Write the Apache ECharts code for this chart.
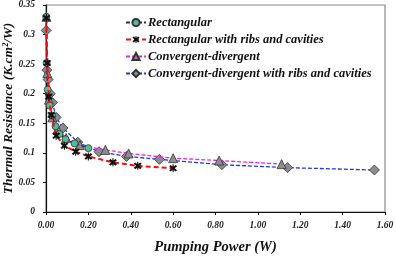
<!DOCTYPE html>
<html><head><meta charset="utf-8">
<script src="https://cdn.jsdelivr.net/npm/echarts@6/dist/echarts.min.js"></script>
<style>html,body{margin:0;padding:0;background:#fff}#c{width:396px;height:257px}</style>
</head><body><div id="c"></div>
<script>
var seriesNames = ['Rectangular','Rectangular with ribs and cavities','Convergent-divergent','Convergent-divergent with ribs and cavities'];
var rectX = [0.001, 0.003, 0.008, 0.017, 0.029, 0.045, 0.064, 0.092, 0.135, 0.20];
var rectY = [0.330, 0.252, 0.207, 0.180, 0.163, 0.145, 0.132, 0.123, 0.116, 0.108];
var ribX = [0.002, 0.006, 0.013, 0.025, 0.048, 0.087, 0.14, 0.20, 0.316, 0.433, 0.60];
var ribY = [0.328, 0.252, 0.195, 0.164, 0.129, 0.112, 0.102, 0.094, 0.084, 0.078, 0.074];
var cdX = [0.002, 0.006, 0.014, 0.03, 0.055, 0.095, 0.16, 0.28, 0.39, 0.60, 0.817, 1.112];
var cdY = [0.330, 0.235, 0.190, 0.160, 0.140, 0.125, 0.113, 0.105, 0.099, 0.091, 0.087, 0.081];
var cdrX = [0.001, 0.004, 0.01, 0.02, 0.03, 0.048, 0.08, 0.15, 0.25, 0.38, 0.535, 0.83, 1.14, 1.55];
var cdrY = [0.307, 0.240, 0.224, 0.200, 0.185, 0.160, 0.142, 0.118, 0.102, 0.094, 0.089, 0.080, 0.075, 0.071];
var xTicks = [0, 0.2, 0.4, 0.6, 0.8, 1.0, 1.2, 1.4, 1.6];
var yTicks = [0, 0.05, 0.1, 0.15, 0.2, 0.25, 0.3, 0.35];

function pairs(xs, ys){ return xs.map(function(x,i){return [x, ys[i]];}); }
var serif = '"Liberation Serif","DejaVu Serif",serif';
var asterisk = 'path://M2,0 L5,3 L8,0 L10,2 L7,5 L10,8 L8,10 L5,7 L2,10 L0,8 L3,5 L0,2 Z M4.3,-1 L5.7,-1 L5.7,11 L4.3,11 Z';

var chart = echarts.init(document.getElementById('c'));
chart.setOption({
  animation: false,
  grid: {left: 46, top: 5, right: 11, bottom: 45, show: true, borderColor: '#888', borderWidth: 1.2,
    containLabel: false, outerBoundsMode: 'none'},
  legend: {
    left: 120, top: 11, orient: 'vertical', itemGap: 4, itemWidth: 20, itemHeight: 9,
    textStyle: {fontFamily: serif, fontStyle: 'italic', fontWeight: 'bold', fontSize: 12.5, color: '#111', padding: [0,0,0,-3]},
    data: seriesNames
  },
  xAxis: {
    type: 'value', min: 0, max: 1.6, interval: 0.2,
    name: 'Pumping Power (W)', nameLocation: 'middle', nameGap: 28, nameMoveOverlap: false,
    nameTextStyle: {fontFamily: serif, fontStyle: 'italic', fontWeight: 'bold', fontSize: 14.5, color: '#111'},
    axisLine: {lineStyle: {color: '#111', width: 1.2}},
    axisTick: {show: true, length: 3, lineStyle: {color: '#111'}},
    splitLine: {show: false},
    axisLabel: {fontFamily: serif, fontStyle: 'italic', fontWeight: 'bold', fontSize: 9.5, color: '#222', margin: 9,
      formatter: function(v){ return v.toFixed(2); }}
  },
  yAxis: {
    type: 'value', min: 0, max: 0.35, interval: 0.05,
    name: 'Thermal Resistance (K.cm²/W)', nameLocation: 'middle', nameGap: 30, nameRotate: 90, nameMoveOverlap: false,
    nameTextStyle: {fontFamily: serif, fontStyle: 'italic', fontWeight: 'bold', fontSize: 13.5, color: '#111'},
    axisLine: {show: true, lineStyle: {color: '#111', width: 1.2}},
    axisTick: {show: true, length: 3, lineStyle: {color: '#111'}},
    splitLine: {show: false},
    axisLabel: {fontFamily: serif, fontStyle: 'italic', fontWeight: 'bold', fontSize: 9.5, color: '#222', margin: 11,
      formatter: function(v){ return String(+v.toFixed(2)); }}
  },
  series: [
    {name: seriesNames[3], type: 'line', data: pairs(cdrX, cdrY), symbol: 'diamond', symbolSize: 10,
      lineStyle: {color: '#2233ee', type: [4,2], width: 1.3},
      itemStyle: {color: '#8c8c8c', borderColor: '#333', borderWidth: 0.8}, z: 2},
    {name: seriesNames[2], type: 'line', data: pairs(cdX, cdY), symbol: 'triangle', symbolSize: 9,
      lineStyle: {color: '#ee22ee', type: [4,2], width: 1.3},
      itemStyle: {color: '#8c8c8c', borderColor: '#333', borderWidth: 0.8}, z: 3},
    {name: seriesNames[0], type: 'line', data: pairs(rectX, rectY), symbol: 'circle', symbolSize: 7,
      lineStyle: {color: '#333', type: [4,2], width: 1.3},
      itemStyle: {color: '#55bb99', borderColor: '#333', borderWidth: 0.8}, z: 4},
    {name: seriesNames[1], type: 'line', data: pairs(ribX, ribY), symbol: asterisk, symbolSize: 8,
      lineStyle: {color: '#ee1111', type: [5,3], width: 2},
      itemStyle: {color: '#111', borderColor: '#111', borderWidth: 0}, z: 5}
  ]
});
</script></body></html>
